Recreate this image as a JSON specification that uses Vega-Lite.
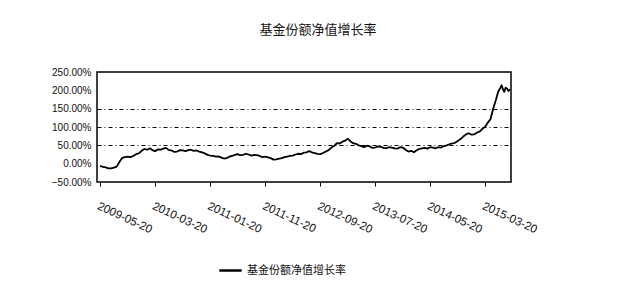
{
  "$schema": "https://vega.github.io/schema/vega-lite/v6.json",
  "autosize": {"type": "none"},
  "width": 414,
  "height": 110,
  "padding": {"left": 97, "top": 72, "right": 122, "bottom": 102},
  "background": "white",
  "title": {
    "text": "基金份额净值增长率",
    "anchor": "middle",
    "dx": 14,
    "offset": 30,
    "font": "Noto Sans CJK SC",
    "fontSize": 13,
    "fontWeight": "normal",
    "color": "#111"
  },
  "config": {
    "view": {"stroke": "#000", "strokeWidth": 1.5},
    "font": "Liberation Sans"
  },
  "data": {
    "values": [
      {"date": "2009-05-20", "v": -6},
      {"date": "2009-06-05", "v": -9},
      {"date": "2009-06-20", "v": -10},
      {"date": "2009-07-05", "v": -13},
      {"date": "2009-07-20", "v": -13},
      {"date": "2009-08-05", "v": -11},
      {"date": "2009-08-20", "v": -8},
      {"date": "2009-09-05", "v": 5},
      {"date": "2009-09-20", "v": 16},
      {"date": "2009-10-05", "v": 18},
      {"date": "2009-10-20", "v": 19},
      {"date": "2009-11-05", "v": 18},
      {"date": "2009-11-20", "v": 21},
      {"date": "2009-12-05", "v": 26},
      {"date": "2009-12-20", "v": 28},
      {"date": "2010-01-05", "v": 35},
      {"date": "2010-01-20", "v": 40},
      {"date": "2010-02-05", "v": 38},
      {"date": "2010-02-20", "v": 42},
      {"date": "2010-03-05", "v": 37},
      {"date": "2010-03-20", "v": 34},
      {"date": "2010-04-05", "v": 39},
      {"date": "2010-04-20", "v": 38},
      {"date": "2010-05-05", "v": 41},
      {"date": "2010-05-20", "v": 43},
      {"date": "2010-06-05", "v": 37},
      {"date": "2010-06-20", "v": 36},
      {"date": "2010-07-05", "v": 32},
      {"date": "2010-07-20", "v": 33},
      {"date": "2010-08-05", "v": 37},
      {"date": "2010-08-20", "v": 36},
      {"date": "2010-09-05", "v": 34},
      {"date": "2010-09-20", "v": 37},
      {"date": "2010-10-05", "v": 38},
      {"date": "2010-10-20", "v": 35},
      {"date": "2010-11-05", "v": 36},
      {"date": "2010-11-20", "v": 33},
      {"date": "2010-12-05", "v": 31},
      {"date": "2010-12-20", "v": 28},
      {"date": "2011-01-05", "v": 24},
      {"date": "2011-01-20", "v": 22},
      {"date": "2011-02-05", "v": 21},
      {"date": "2011-02-20", "v": 19},
      {"date": "2011-03-05", "v": 20},
      {"date": "2011-03-20", "v": 17},
      {"date": "2011-04-05", "v": 14},
      {"date": "2011-04-20", "v": 15},
      {"date": "2011-05-05", "v": 19},
      {"date": "2011-05-20", "v": 21},
      {"date": "2011-06-05", "v": 24},
      {"date": "2011-06-20", "v": 26},
      {"date": "2011-07-05", "v": 23},
      {"date": "2011-07-20", "v": 24},
      {"date": "2011-08-05", "v": 27},
      {"date": "2011-08-20", "v": 25},
      {"date": "2011-09-05", "v": 22},
      {"date": "2011-09-20", "v": 24},
      {"date": "2011-10-05", "v": 23},
      {"date": "2011-10-20", "v": 21},
      {"date": "2011-11-05", "v": 18},
      {"date": "2011-11-20", "v": 19},
      {"date": "2011-12-05", "v": 17},
      {"date": "2011-12-20", "v": 15},
      {"date": "2012-01-05", "v": 11},
      {"date": "2012-01-20", "v": 12},
      {"date": "2012-02-05", "v": 14},
      {"date": "2012-02-20", "v": 15},
      {"date": "2012-03-05", "v": 18},
      {"date": "2012-03-20", "v": 19},
      {"date": "2012-04-05", "v": 21},
      {"date": "2012-04-20", "v": 22},
      {"date": "2012-05-05", "v": 25},
      {"date": "2012-05-20", "v": 27},
      {"date": "2012-06-05", "v": 26},
      {"date": "2012-06-20", "v": 30},
      {"date": "2012-07-05", "v": 31},
      {"date": "2012-07-20", "v": 34},
      {"date": "2012-08-05", "v": 31},
      {"date": "2012-08-20", "v": 29},
      {"date": "2012-09-05", "v": 27},
      {"date": "2012-09-20", "v": 26},
      {"date": "2012-10-05", "v": 29},
      {"date": "2012-10-20", "v": 33},
      {"date": "2012-11-05", "v": 37},
      {"date": "2012-11-20", "v": 44},
      {"date": "2012-12-05", "v": 48},
      {"date": "2012-12-20", "v": 56},
      {"date": "2013-01-05", "v": 55},
      {"date": "2013-01-20", "v": 60},
      {"date": "2013-02-05", "v": 63},
      {"date": "2013-02-20", "v": 68},
      {"date": "2013-03-05", "v": 61},
      {"date": "2013-03-20", "v": 56},
      {"date": "2013-04-05", "v": 54},
      {"date": "2013-04-20", "v": 50},
      {"date": "2013-05-05", "v": 48},
      {"date": "2013-05-20", "v": 45},
      {"date": "2013-06-05", "v": 49},
      {"date": "2013-06-20", "v": 47},
      {"date": "2013-07-05", "v": 43},
      {"date": "2013-07-20", "v": 44},
      {"date": "2013-08-05", "v": 47},
      {"date": "2013-08-20", "v": 46},
      {"date": "2013-09-05", "v": 43},
      {"date": "2013-09-20", "v": 42},
      {"date": "2013-10-05", "v": 45},
      {"date": "2013-10-20", "v": 44},
      {"date": "2013-11-05", "v": 42},
      {"date": "2013-11-20", "v": 41},
      {"date": "2013-12-05", "v": 45},
      {"date": "2013-12-20", "v": 44},
      {"date": "2014-01-05", "v": 38},
      {"date": "2014-01-20", "v": 33},
      {"date": "2014-02-05", "v": 35},
      {"date": "2014-02-20", "v": 31},
      {"date": "2014-03-05", "v": 36},
      {"date": "2014-03-20", "v": 40},
      {"date": "2014-04-05", "v": 42},
      {"date": "2014-04-20", "v": 43},
      {"date": "2014-05-05", "v": 41},
      {"date": "2014-05-20", "v": 45},
      {"date": "2014-06-05", "v": 44},
      {"date": "2014-06-20", "v": 42},
      {"date": "2014-07-05", "v": 45},
      {"date": "2014-07-20", "v": 44},
      {"date": "2014-08-05", "v": 48},
      {"date": "2014-08-20", "v": 50},
      {"date": "2014-09-05", "v": 53},
      {"date": "2014-09-20", "v": 55},
      {"date": "2014-10-05", "v": 57},
      {"date": "2014-10-20", "v": 62},
      {"date": "2014-11-05", "v": 67},
      {"date": "2014-11-20", "v": 74},
      {"date": "2014-12-05", "v": 80},
      {"date": "2014-12-20", "v": 83},
      {"date": "2015-01-05", "v": 79},
      {"date": "2015-01-20", "v": 80},
      {"date": "2015-02-05", "v": 85},
      {"date": "2015-02-20", "v": 88},
      {"date": "2015-03-05", "v": 95},
      {"date": "2015-03-20", "v": 100},
      {"date": "2015-04-05", "v": 112},
      {"date": "2015-04-20", "v": 122},
      {"date": "2015-05-05", "v": 151},
      {"date": "2015-05-20", "v": 175},
      {"date": "2015-06-01", "v": 196},
      {"date": "2015-06-12", "v": 206},
      {"date": "2015-06-20", "v": 214},
      {"date": "2015-06-27", "v": 203},
      {"date": "2015-07-05", "v": 196},
      {"date": "2015-07-12", "v": 207},
      {"date": "2015-07-20", "v": 205},
      {"date": "2015-07-28", "v": 198},
      {"date": "2015-08-05", "v": 203}
    ]
  },
  "mark": {"type": "line", "strokeWidth": 1.8, "strokeJoin": "round"},
  "encoding": {
    "x": {
      "field": "date",
      "type": "temporal",
      "scale": {"domain": ["2009-05-03", "2015-08-11"]},
      "axis": {
        "values": ["2009-05-20", "2010-03-20", "2011-01-20", "2011-11-20", "2012-09-20", "2013-07-20", "2014-05-20", "2015-03-20"],
        "format": "%Y-%m-%d",
        "labelAngle": 25,
        "labelAlign": "left",
        "labelBaseline": "top",
        "labelPadding": 14,
        "labelFontSize": 11.5,
        "labelColor": "#111",
        "labelOverlap": false,
        "labelBound": false,
        "labelFlush": false,
        "tickColor": "#000",
        "tickSize": 4,
        "domain": false,
        "grid": false,
        "title": null
      }
    },
    "y": {
      "field": "v",
      "type": "quantitative",
      "scale": {"domain": [-50, 250], "nice": false},
      "axis": {
        "values": [-50, 0, 50, 100, 150, 200, 250],
        "labelExpr": "format(datum.value, '.2f') + '%'",
        "labelFontSize": 10,
        "labelColor": "#111",
        "labelPadding": 6,
        "labelOverlap": false,
        "ticks": false,
        "domain": false,
        "grid": true,
        "gridColor": "#000",
        "gridWidth": 1,
        "gridDash": [4, 3, 1, 3],
        "gridOpacity": {"condition": {"test": "datum.value >= 50 && datum.value <= 150", "value": 1}, "value": 0},
        "title": null
      }
    },
    "color": {
      "datum": "基金份额净值增长率",
      "scale": {"range": ["#000"]},
      "legend": {
        "title": null,
        "orient": "none",
        "legendX": 121,
        "legendY": 186,
        "symbolType": "stroke",
        "symbolStrokeWidth": 2.5,
        "symbolSize": 500,
        "labelFont": "Noto Sans CJK SC",
        "labelFontSize": 11,
        "labelColor": "#111"
      }
    }
  }
}
